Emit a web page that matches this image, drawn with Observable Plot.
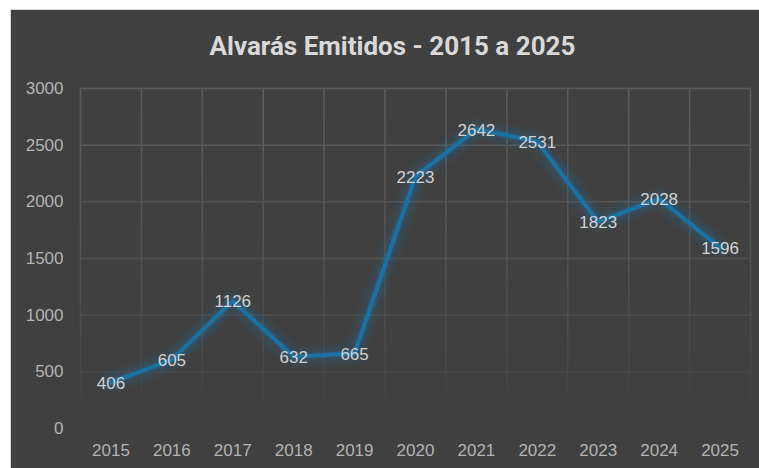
<!DOCTYPE html>
<html>
<head>
<meta charset="utf-8">
<script src="https://cdn.jsdelivr.net/npm/d3@7"></script>
<script src="https://cdn.jsdelivr.net/npm/@observablehq/plot@0.6"></script>
<style>
  html, body { margin: 0; padding: 0; background: #ffffff; }
  #outer { position: relative; width: 759px; height: 468px; overflow: hidden; background: #ffffff; }
  #panel { position: absolute; left: 10px; top: 9px; width: 749px; height: 459px;
           background: #404040; border-left: 1px solid #d6d6d6; border-top: 1px solid #d6d6d6; box-sizing: border-box; }
  #panel svg { position: absolute; left: 0; top: 0; }
</style>
</head>
<body>
<div id="outer"><div id="panel"></div></div>
<script>
const title = "Alvarás Emitidos - 2015 a 2025";
const years = [2015, 2016, 2017, 2018, 2019, 2020, 2021, 2022, 2023, 2024, 2025];
const values = [406, 605, 1126, 632, 665, 2223, 2642, 2531, 1823, 2028, 1596];
const yTicks = [0, 500, 1000, 1500, 2000, 2500, 3000];

const data = years.map((year, i) => ({year, value: values[i]}));
const bounds = years.map(y => y - 0.5).concat([years[years.length - 1] + 0.5]);

const W = 748, H = 458;
const mL = 69, mR = 9, mT = 78, mB = 40;
const labelFont = "'Liberation Sans', Arial, sans-serif";

const chart = Plot.plot({
  width: W,
  height: H,
  marginLeft: mL,
  marginRight: mR,
  marginTop: mT,
  marginBottom: mB,
  style: {background: "transparent", color: "#b3b3b3", fontFamily: labelFont, fontSize: "17px", overflow: "visible"},
  x: {type: "linear", domain: [bounds[0], bounds[bounds.length - 1]]},
  y: {domain: [0, 3000]},
  marks: [
    Plot.ruleY(yTicks, {stroke: "url(#gridfade)", strokeWidth: 1.5}),
    Plot.ruleX(bounds, {stroke: "url(#gridfade)", strokeWidth: 1.5}),
    Plot.axisX(years, {tickFormat: d => String(d), label: null, tickSize: 0, tickPadding: 15, fontSize: 17, fill: "#b3b3b3"}),
    Plot.axisY(yTicks, {tickFormat: d => String(d), label: null, tickSize: 0, tickPadding: 17, fontSize: 17, fill: "#b3b3b3"}),
    Plot.line(data, {x: "year", y: "value", stroke: "#1d7ab0", strokeWidth: 24, strokeOpacity: 0.06}),
    Plot.line(data, {x: "year", y: "value", stroke: "#1d7ab0", strokeWidth: 17, strokeOpacity: 0.08}),
    Plot.line(data, {x: "year", y: "value", stroke: "#1d7ab0", strokeWidth: 11, strokeOpacity: 0.1}),
    Plot.line(data, {x: "year", y: "value", stroke: "#1d7ab0", strokeWidth: 7, strokeOpacity: 0.14}),
    Plot.line(data, {x: "year", y: "value", stroke: "#1a72a4", strokeWidth: 4}),
    Plot.text(data, {x: "year", y: "value", text: d => String(d.value), fill: "#d2d2d2", fontSize: 17, dy: 1}),
    Plot.text([title], {frameAnchor: "top", dx: -23, dy: -52, text: d => d, fill: "#d9d9d9", fontSize: 26, fontWeight: "bold", fontFamily: "'Roboto', sans-serif"})
  ]
});

const svgns = "http://www.w3.org/2000/svg";
const defs = document.createElementNS(svgns, "defs");
defs.innerHTML = `
  <linearGradient id="gridfade" gradientUnits="userSpaceOnUse" x1="0" y1="${mT}" x2="0" y2="${H - mB - 8}">
    <stop offset="0" stop-color="#5c5c5c" stop-opacity="1"/>
    <stop offset="0.45" stop-color="#5c5c5c" stop-opacity="0.75"/>
    <stop offset="1" stop-color="#5c5c5c" stop-opacity="0"/>
  </linearGradient>`;
chart.insertBefore(defs, chart.firstChild);

document.getElementById("panel").appendChild(chart);
</script>
</body>
</html>
